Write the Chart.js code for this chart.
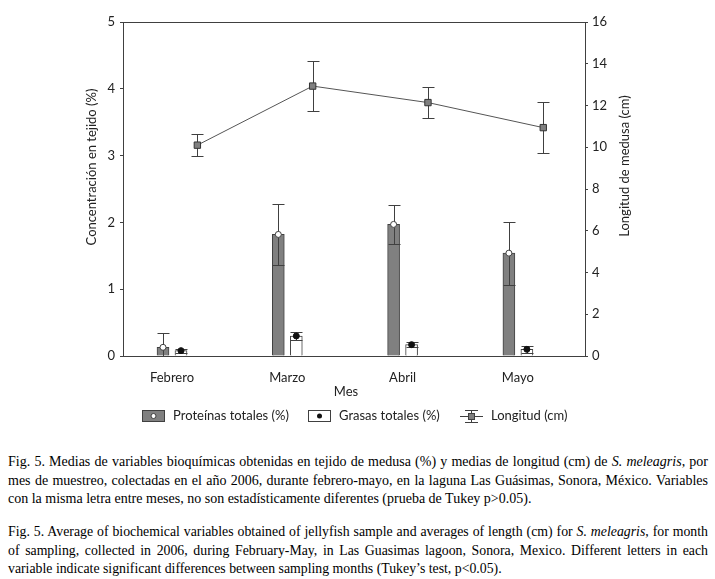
<!DOCTYPE html>
<html>
<head>
<meta charset="utf-8">
<script src="https://cdn.jsdelivr.net/npm/chart.js@4.4.0/dist/chart.umd.min.js"></script>
<style>
body { margin: 0; background: #fff; width: 715px; height: 579px; overflow: hidden; position: relative; }
#wrap { position: absolute; left: 0; top: 0; width: 715px; height: 440px; }
.cap { position: absolute; left: 8px; width: 700px; margin: 0; font: 14px "Liberation Serif", serif; line-height: 18.5px; text-align: justify; color: #000; }
</style>
</head>
<body>
<div id="wrap"><canvas id="chart"></canvas></div>
<p class="cap" style="top:453px">Fig. 5. Medias de variables bioquímicas obtenidas en tejido de medusa (%) y medias de longitud (cm) de <i>S. meleagris</i>, por mes de muestreo, colectadas en el año 2006, durante febrero-mayo, en la laguna Las Guásimas, Sonora, México. Variables con la misma letra entre meses, no son estadísticamente diferentes (prueba de Tukey p&gt;0.05).</p>
<p class="cap" style="top:523px;font-size:13.8px">Fig. 5. Average of biochemical variables obtained of jellyfish sample and averages of length (cm) for <i>S. meleagris</i>, for month of sampling, collected in 2006, during February-May, in Las Guasimas lagoon, Sonora, Mexico. Different letters in each variable indicate significant differences between sampling months (Tukey’s test, p&lt;0.05).</p>
<script>
const months = ['Febrero', 'Marzo', 'Abril', 'Mayo'];
const proteinas = [0.13, 1.82, 1.97, 1.54];
const proteinasErr = [0.21, 0.46, 0.29, 0.47];
const grasas = [0.08, 0.30, 0.17, 0.10];
const grasasErr = [0.03, 0.06, 0.04, 0.05];
const longitud = [10.1, 12.93, 12.14, 10.94];
const longitudErr = [0.54, 1.18, 0.73, 1.22];

const FONT = 'Lato';
const DARK = '#404040';

// horizontal shifts inside each month (in category units)
const barShift = 0.078;
const lineShift = 0.22;

function at(values, shift) {
    return values.map((v, i) => ({x: i + shift, y: v}));
}

const errorBars = {
    id: 'errorBars',
    beforeDatasetDraw(chart, args) {
        const ds = chart.data.datasets[args.index];
        if (!ds.errors) return;
        const ctx = chart.ctx;
        const xs = chart.scales.x;
        const ys = chart.scales[ds.yAxisID];
        const a = chart.chartArea;
        ctx.save();
        ctx.beginPath();
        ctx.rect(a.left, a.top, a.right - a.left, a.bottom - a.top);
        ctx.clip();
        ctx.strokeStyle = DARK;
        ctx.lineWidth = 1;
        ds.data.forEach((p, i) => {
            const px = Math.round(xs.getPixelForValue(p.x)) + 0.5;
            const top = Math.round(ys.getPixelForValue(p.y + ds.errors[i])) + 0.5;
            const bot = Math.round(ys.getPixelForValue(p.y - ds.errors[i])) + 0.5;
            ctx.beginPath();
            ctx.moveTo(px, top); ctx.lineTo(px, bot);
            ctx.moveTo(px - 6, top); ctx.lineTo(px + 6, top);
            ctx.moveTo(px - 6, bot); ctx.lineTo(px + 6, bot);
            ctx.stroke();
        });
        ctx.restore();
    }
};

function legendIcon(ctx, kind, x, y) {
    ctx.save();
    ctx.strokeStyle = DARK;
    ctx.lineWidth = 1;
    if (kind === 'prot') {
        ctx.fillStyle = '#808080';
        ctx.fillRect(x, y - 6, 23, 12);
        ctx.strokeRect(x + 0.5, y - 5.5, 22, 11);
        ctx.beginPath();
        ctx.arc(x + 11.5, y, 2.5, 0, Math.PI * 2);
        ctx.fillStyle = '#fff';
        ctx.fill();
        ctx.stroke();
    } else if (kind === 'gras') {
        ctx.fillStyle = '#fff';
        ctx.fillRect(x, y - 6, 23, 12);
        ctx.strokeRect(x + 0.5, y - 5.5, 22, 11);
        ctx.beginPath();
        ctx.arc(x + 11.5, y, 2.5, 0, Math.PI * 2);
        ctx.fillStyle = '#111';
        ctx.fill();
    } else {
        ctx.beginPath();
        ctx.moveTo(x, y + 0.5); ctx.lineTo(x + 23, y + 0.5);
        ctx.moveTo(x + 11.5, y - 6); ctx.lineTo(x + 11.5, y + 6);
        ctx.moveTo(x + 5, y - 5.5); ctx.lineTo(x + 18, y - 5.5);
        ctx.moveTo(x + 5, y + 6.5); ctx.lineTo(x + 18, y + 6.5);
        ctx.stroke();
        ctx.fillStyle = '#808080';
        ctx.fillRect(x + 8.5, y - 3, 6, 6);
        ctx.strokeRect(x + 8.5, y - 2.5, 6, 6);
    }
    ctx.restore();
}

const decor = {
    id: 'decor',
    afterDraw(chart) {
        const ctx = chart.ctx;
        const a = chart.chartArea;
        ctx.save();
        // top frame line
        ctx.strokeStyle = DARK;
        ctx.lineWidth = 1;
        ctx.beginPath();
        ctx.moveTo(a.left, Math.round(a.top) + 0.5);
        ctx.lineTo(a.right, Math.round(a.top) + 0.5);
        ctx.stroke();

        ctx.fillStyle = '#222';
        ctx.font = '13px ' + FONT;
        ctx.textAlign = 'center';
        ctx.textBaseline = 'middle';
        ctx.fillText('Mes', 346, 392);

        ctx.save();
        ctx.translate(92, 167);
        ctx.rotate(-Math.PI / 2);
        ctx.fillText('Concentración en tejido (%)', 0, 0);
        ctx.restore();

        ctx.save();
        ctx.translate(625, 166);
        ctx.rotate(-Math.PI / 2);
        ctx.fillText('Longitud de medusa (cm)', 0, 0);
        ctx.restore();

        // legend
        const items = [
            ['prot', 142, chart.data.datasets[0].label],
            ['gras', 308, chart.data.datasets[1].label],
            ['long', 460, chart.data.datasets[4].label]
        ];
        ctx.textAlign = 'left';
        items.forEach(it => {
            legendIcon(ctx, it[0], it[1], 416);
            ctx.fillStyle = '#222';
            ctx.fillText(it[2], it[1] + 31, 416);
        });
        ctx.restore();
    }
};

new Chart(document.getElementById('chart'), {
    type: 'bar',
    data: {
        datasets: [{
            label: 'Proteínas totales (%)',
            data: at(proteinas, -barShift),
            yAxisID: 'y',
            backgroundColor: '#808080',
            borderColor: DARK,
            borderWidth: 1,
            barThickness: 12,
            grouped: false,
            order: 5
        }, {
            label: 'Grasas totales (%)',
            data: at(grasas, barShift),
            yAxisID: 'y',
            backgroundColor: '#fff',
            borderColor: DARK,
            borderWidth: 1,
            barThickness: 12,
            grouped: false,
            order: 4
        }, {
            type: 'line',
            label: 'prot-mean',
            data: at(proteinas, -barShift),
            errors: proteinasErr,
            yAxisID: 'y',
            showLine: false,
            pointStyle: 'circle',
            pointRadius: 3,
            pointBackgroundColor: '#fff',
            pointBorderColor: DARK,
            pointBorderWidth: 1,
            order: 2
        }, {
            type: 'line',
            label: 'gras-mean',
            data: at(grasas, barShift),
            errors: grasasErr,
            yAxisID: 'y',
            showLine: false,
            pointStyle: 'circle',
            pointRadius: 3,
            pointBackgroundColor: '#111',
            pointBorderColor: '#111',
            pointBorderWidth: 1,
            order: 2
        }, {
            type: 'line',
            label: 'Longitud (cm)',
            data: at(longitud, lineShift),
            errors: longitudErr,
            yAxisID: 'y2',
            borderColor: '#555',
            borderWidth: 1,
            pointStyle: 'rect',
            pointRadius: 4.5,
            pointBackgroundColor: '#808080',
            pointBorderColor: '#333',
            pointBorderWidth: 1,
            order: 1
        }]
    },
    options: {
        responsive: true,
        maintainAspectRatio: false,
        animation: false,
        layout: { padding: { top: 22, left: 0, right: 0, bottom: 0 } },
        plugins: { legend: { display: false }, tooltip: { enabled: false } },
        scales: {
            x: {
                type: 'linear',
                offset: false,
                min: -0.425,
                max: 3.582,
                afterFit: (s) => { s.height = 84; },
                afterBuildTicks: (s) => { s.ticks = months.map((m, i) => ({value: i})); },
                grid: { display: false },
                border: { display: true, color: DARK },
                ticks: {
                    callback: (v) => months[v],
                    color: '#222',
                    font: { family: FONT, size: 13 },
                    padding: 6,
                    maxRotation: 0
                }
            },
            y: {
                position: 'left',
                min: 0,
                max: 5,
                afterFit: (s) => { s.width = 123; },
                grid: { drawOnChartArea: false, drawTicks: true, tickLength: 3, color: DARK },
                border: { display: true, color: DARK },
                ticks: { stepSize: 1, color: '#222', font: { family: FONT, size: 13 }, padding: 5 }
            },
            y2: {
                position: 'right',
                min: 0,
                max: 16,
                afterFit: (s) => { s.width = 130; },
                grid: { drawOnChartArea: false, drawTicks: true, tickLength: 3, color: DARK },
                border: { display: true, color: DARK },
                ticks: { stepSize: 2, color: '#222', font: { family: FONT, size: 13 }, padding: 4 }
            }
        }
    },
    plugins: [errorBars, decor]
});
</script>
</body>
</html>
